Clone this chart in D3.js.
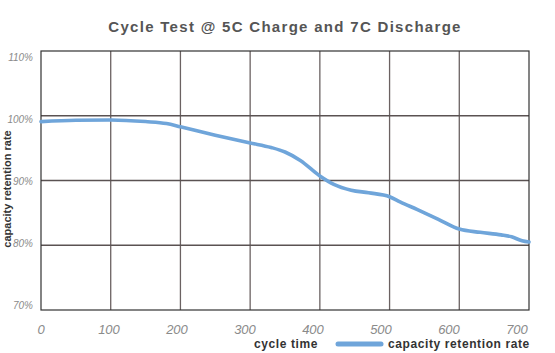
<!DOCTYPE html>
<html>
<head>
<meta charset="utf-8">
<script src="https://cdnjs.cloudflare.com/ajax/libs/d3/7.8.5/d3.min.js"></script>
<style>
  body { margin: 0; background: #fff; }
  svg { display: block; }
  .tick-x, .tick-y { font-family: "Liberation Sans Narrow", "Liberation Sans", sans-serif; font-style: italic; fill: #8a8a8a; }
</style>
</head>
<body>
<svg id="chart" width="555" height="353"></svg>
<script>
const cycles = [0, 50, 100, 150, 180, 200, 250, 300, 330, 350, 372, 400, 420, 445, 470, 500, 515, 540, 570, 600, 630, 660, 675, 690, 700];
const retention = [99.1, 99.3, 99.35, 99.1, 98.8, 98.3, 97.0, 95.8, 95.1, 94.4, 93.1, 90.7, 89.4, 88.5, 88.1, 87.5, 86.7, 85.5, 84.0, 82.5, 82.0, 81.6, 81.3, 80.7, 80.5];
const xTicks = [0, 100, 200, 300, 400, 500, 600, 700];
const yTicks = [70, 80, 90, 100, 110];

const svg = d3.select("#chart");
const margin = { top: 51, right: 26, bottom: 43, left: 41 };
const width = 555, height = 353;

const x = d3.scaleLinear().domain([0, 700]).range([margin.left, width - margin.right]);
const y = d3.scaleLinear().domain([70, 110]).range([height - margin.bottom, margin.top]);

// tick labels in the original sit a bit inside the grid
const xLabel = d3.scaleLinear().domain([0, 700]).range([41, 517]);
const yLabel = d3.scaleLinear().domain([70, 110]).range([305, 57]);

// title
svg.append("text")
    .attr("x", 285).attr("y", 32)
    .attr("text-anchor", "middle")
    .style("font-family", "Liberation Sans, Arial, sans-serif")
    .style("font-size", "15px").style("font-weight", "bold")
    .style("letter-spacing", "1.3px")
    .style("fill", "#555")
    .text("Cycle Test @ 5C Charge and 7C Discharge");

// grid
svg.append("g").selectAll("line").data(xTicks.slice(1, -1)).enter().append("line")
    .attr("x1", d => x(d)).attr("x2", d => x(d))
    .attr("y1", y(110)).attr("y2", y(70))
    .attr("stroke", "#6b6262").attr("stroke-width", 1.3);

svg.append("g").selectAll("line").data(yTicks.slice(1, -1)).enter().append("line")
    .attr("x1", x(0)).attr("x2", x(700))
    .attr("y1", d => y(d)).attr("y2", d => y(d))
    .attr("stroke", "#5a5252").attr("stroke-width", 1.4);

svg.append("rect")
    .attr("x", x(0)).attr("y", y(110))
    .attr("width", x(700) - x(0)).attr("height", y(70) - y(110))
    .attr("fill", "none").attr("stroke", "#333").attr("stroke-width", 1.2);

// tick labels
svg.append("g").selectAll("text").data(xTicks).enter().append("text")
    .attr("class", "tick-x")
    .attr("x", d => xLabel(d)).attr("y", 334)
    .attr("text-anchor", "middle")
    .style("font-size", "13px")
    .text(d => d);

svg.append("g").selectAll("text").data(yTicks).enter().append("text")
    .attr("class", "tick-y")
    .attr("x", 33).attr("y", d => yLabel(d))
    .attr("dy", "0.35em")
    .attr("text-anchor", "end")
    .style("font-size", "10px")
    .text(d => d + "%");

// y axis title
svg.append("text")
    .attr("transform", "translate(11,189) rotate(-90)")
    .attr("text-anchor", "middle")
    .style("font-family", "Liberation Sans, Arial, sans-serif")
    .style("font-size", "11px").style("font-weight", "bold")
    .style("fill", "#333")
    .text("capacity retention rate");

// curve
const line = d3.line()
    .x((d, i) => x(cycles[i]))
    .y(d => y(d))
    .curve(d3.curveMonotoneX);

svg.append("path")
    .datum(retention)
    .attr("d", line)
    .attr("fill", "none")
    .attr("stroke", "#6fa5da")
    .attr("stroke-width", 3.6)
    .attr("stroke-linecap", "round");

// x title + legend
const labelStyle = sel => sel
    .style("font-family", "Liberation Sans, Arial, sans-serif")
    .style("font-size", "12px").style("font-weight", "bold")
    .style("letter-spacing", "0.6px")
    .style("fill", "#333");

svg.append("text")
    .attr("x", 286).attr("y", 348)
    .attr("text-anchor", "middle")
    .call(labelStyle)
    .text("cycle time");

svg.append("line")
    .attr("x1", 338).attr("x2", 381)
    .attr("y1", 344).attr("y2", 344)
    .attr("stroke", "#6fa5da").attr("stroke-width", 5)
    .attr("stroke-linecap", "round");

svg.append("text")
    .attr("x", 388).attr("y", 348)
    .call(labelStyle)
    .text("capacity retention rate");
</script>
</body>
</html>
